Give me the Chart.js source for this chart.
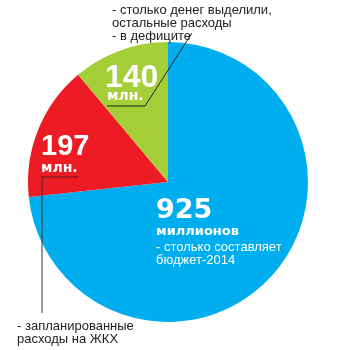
<!DOCTYPE html>
<html>
<head>
<meta charset="utf-8">
<script src="https://cdn.jsdelivr.net/npm/chart.js@4.4.0/dist/chart.umd.min.js"></script>
<style>
  html, body { margin: 0; padding: 0; background: #ffffff; }
  #wrap { width: 340px; height: 350px; position: relative; }
</style>
</head>
<body>
<div id="wrap"><canvas id="budget"></canvas></div>
<script>
// Бюджет-2014: общая сумма, расходы на ЖКХ и дефицит (млн.)
const categories = ['Бюджет-2014', 'Расходы на ЖКХ', 'Дефицит'];
const values = [925, 197, 140];
const sliceColors = ['#00aeef', '#ed1c24', '#a6ce39'];

// Подписи внутри секторов
const bigNumbers = ['925', '197', '140'];
const unitLabels = ['миллионов', 'млн.', 'млн.'];
const budgetNote = ['- столько составляет', 'бюджет-2014'];
const housingNote = ['- запланированные', 'расходы на ЖКХ'];
const deficitNote = ['- столько денег выделили,', 'остальные расходы', '- в дефиците'];

const SANS = '"Liberation Sans", Arial, sans-serif';
const WIDE = '"DejaVu Sans", "Liberation Sans", sans-serif';

const labelsPlugin = {
  id: 'sliceLabels',
  afterDatasetsDraw(chart) {
    const ctx = chart.ctx;
    const arcs = chart.getDatasetMeta(0).data;
    const cx = arcs[0].x, cy = arcs[0].y;
    const k = arcs[0].outerRadius / 140;
    const P = (dx, dy) => [cx + dx * k, cy + dy * k];

    const text = (str, dx, dy, font, color) => {
      const [x, y] = P(dx, dy);
      ctx.font = font;
      ctx.fillStyle = color;
      ctx.textAlign = 'left';
      ctx.textBaseline = 'alphabetic';
      ctx.fillText(str, x, y);
    };
    const line = (pts, color, w) => {
      ctx.beginPath();
      pts.forEach((p, i) => {
        const [x, y] = P(p[0], p[1]);
        if (i === 0) ctx.moveTo(x, y); else ctx.lineTo(x, y);
      });
      ctx.strokeStyle = color;
      ctx.lineWidth = w;
      ctx.stroke();
    };

    ctx.save();

    // Сектор бюджета
    text(bigNumbers[0], -12, 36, 'bold 27px ' + WIDE, '#ffffff');
    text(unitLabels[0], -12, 53, 'bold 13px ' + WIDE, '#ffffff');
    text(budgetNote[0], -12, 69, '13px ' + SANS, '#ffffff');
    text(budgetNote[1], -12, 82, '13px ' + SANS, '#ffffff');

    // Сектор ЖКХ
    text(bigNumbers[1], -127, -27, 'bold 29px ' + SANS, '#ffffff');
    text(unitLabels[1], -127, -10, 'bold 14px ' + WIDE, '#ffffff');
    line([[-127, -5], [-90, -5]], '#8c1a1f', 1.5);
    line([[-126, -5], [-126, 131]], '#333333', 1);

    // Сектор дефицита
    text(bigNumbers[2], -63, -95, 'bold 32px ' + SANS, '#ffffff');
    text(unitLabels[2], -61, -82, 'bold 14px ' + WIDE, '#ffffff');
    line([[24, -149], [-23, -76], [-61, -76]], '#222222', 1);

    // Пояснения вне круга
    deficitNote.forEach((s, i) => text(s, -56, -168 + i * 13, '13px ' + SANS, '#222222'));
    housingNote.forEach((s, i) => text(s, -151, 148 + i * 13, '13px ' + SANS, '#222222'));

    ctx.restore();
  }
};

new Chart(document.getElementById('budget'), {
  type: 'pie',
  data: {
    labels: categories,
    datasets: [{
      data: values,
      backgroundColor: sliceColors,
      borderWidth: 0
    }]
  },
  options: {
    responsive: true,
    maintainAspectRatio: false,
    animation: false,
    layout: { padding: { left: 28, right: 32, top: 42, bottom: 28 } },
    plugins: {
      legend: { display: false },
      tooltip: { enabled: false }
    }
  },
  plugins: [labelsPlugin]
});
</script>
</body>
</html>
